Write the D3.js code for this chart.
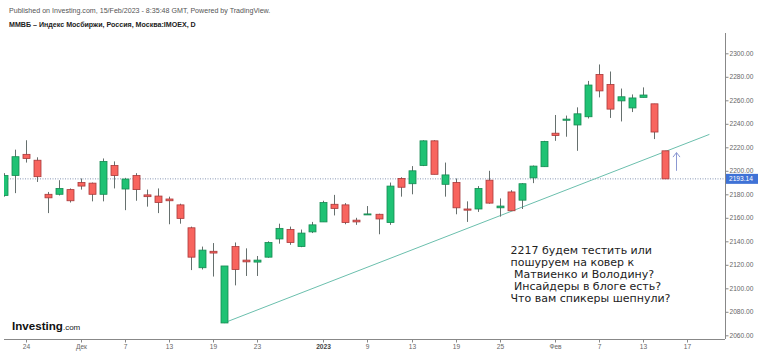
<!DOCTYPE html>
<html lang="ru">
<head>
    <meta charset="UTF-8">
    <title>IMOEX daily</title>
    <script src="https://d3js.org/d3.v7.min.js"></script>
    <style>
        body { margin: 0; background: #fff; }
        svg { display: block; font-family: "Liberation Sans", Arial, sans-serif; }
        .axis text { fill: #666; font-size: 6.6px; }
        .axis line { stroke: #888; }
        .note { font-family: "DejaVu Sans", Verdana, sans-serif; font-size: 11px; fill: #222; }
    </style>
</head>
<body>
<div id="chart"></div>
<script>
// trading days shown (Nov 22 2022 .. Feb 15 2023), OHLC
const dates = ["2022-11-22","2022-11-23","2022-11-24","2022-11-25","2022-11-28","2022-11-29","2022-11-30",
    "2022-12-01","2022-12-02","2022-12-05","2022-12-06","2022-12-07","2022-12-08","2022-12-09","2022-12-12",
    "2022-12-13","2022-12-14","2022-12-15","2022-12-16","2022-12-19","2022-12-20","2022-12-21","2022-12-22",
    "2022-12-23","2022-12-26","2022-12-27","2022-12-28","2022-12-29","2022-12-30","2023-01-03","2023-01-04",
    "2023-01-05","2023-01-06","2023-01-09","2023-01-10","2023-01-11","2023-01-12","2023-01-13","2023-01-16",
    "2023-01-17","2023-01-18","2023-01-19","2023-01-20","2023-01-23","2023-01-24","2023-01-25","2023-01-26",
    "2023-01-27","2023-01-30","2023-01-31","2023-02-01","2023-02-02","2023-02-03","2023-02-06","2023-02-07",
    "2023-02-08","2023-02-09","2023-02-10","2023-02-13","2023-02-14","2023-02-15"];
// empty days to the right of the last bar
const futureDates = ["2023-02-16","2023-02-17","2023-02-20","2023-02-21","2023-02-22"];

const open  = [2179,2196,2214,2209,2180,2180,2184,2190,2189.5,2180,2204.5,2184.5,2196,2179.5,2178.5,
    2176,2171,2151.5,2117.5,2131.5,2070.5,2135.5,2124,2122.3,2126.5,2142,2150,2135.5,2148,2156.5,2171.5,
    2171,2158,2163,2163,2156,2193.5,2189,2204.5,2225.5,2188.5,2190,2167.5,2167.5,2192,2168.5,2182,
    2175,2194,2203.5,2232,2243,2239,2246,2282,2273.5,2259.5,2253.5,2262.5,2257,2217];
const high  = [2198,2218,2226,2211.5,2182,2192,2185,2193.5,2190,2210.5,2208,2194,2198,2184,2185,
    2178,2172,2152.5,2135.5,2138.5,2119,2139,2134,2127.5,2140,2155,2152.5,2150,2156.5,2174.5,2179.5,
    2172.5,2160,2170,2163.5,2190,2194.5,2204,2226,2226,2207,2193.5,2174,2187,2200,2176.5,2183.5,
    2189.5,2204.5,2225.5,2247.5,2247,2254,2276.5,2290.5,2284.5,2270,2265,2271,2257,2217];
const low   = [2178,2181,2207,2190.5,2164,2179,2173,2184,2174,2174,2185,2166.5,2174.5,2169.5,2164,
    2154.5,2155,2115.5,2116,2110,2070.5,2102.5,2110.5,2110.5,2126,2138,2137,2135,2147,2156.5,2162,
    2154.5,2154,2163,2146,2154,2178,2180,2204,2197,2178,2163,2156.5,2165,2172,2161,2166,
    2167.5,2189.5,2203.5,2225.5,2229,2217,2244.5,2262.5,2245,2242,2250,2262.5,2227,2193.14];
const close = [2196,2212,2210.5,2195,2177,2185,2174.5,2187,2180,2208,2196,2193,2184,2178,2173,
    2174.5,2159.5,2126.5,2132.5,2130,2119,2116,2122.5,2124,2139,2151,2139,2147,2154,2173,2168,
    2156,2156.5,2163.3,2159,2187,2186,2200,2225.5,2197,2196.5,2168.5,2166.5,2185,2172.5,2170,2166,
    2189,2204,2225,2230,2244,2248.5,2273,2268,2252.5,2263,2262,2264.5,2233,2193.14];

const lastPrice = 2193.14;

const yTicks = [2060,2080,2100,2120,2140,2160,2180,2200,2220,2240,2260,2280,2300];
const xTickDates  = ["2022-11-24","2022-12-01","2022-12-07","2022-12-13","2022-12-19","2022-12-23",
    "2023-01-03","2023-01-09","2023-01-13","2023-01-19","2023-01-25","2023-02-01","2023-02-07",
    "2023-02-13","2023-02-17"];
const xTickLabels = ["24","Дек","7","13","19","23","2023","9","13","19","25","Фев","7","13","17"];

// support line drawn on the chart (from the Dec 20 low)
const trendDates  = ["2022-12-20","2023-02-21"];
const trendValues = [2070.6, 2231];
// the hand-drawn arrow next to the last bar
const arrowDate = "2023-02-16";
const arrowValues = [2200, 2215.5];

const noteLines = ["2217 будем тестить или", "пошуруем на ковер к", " Матвиенко и Володину?",
    " Инсайдеры в блоге есть?", "Что вам спикеры шепнули?"];

const W = 758, H = 353;
const plot = { left: 4, right: 725, top: 33, bottom: 339 };

const svg = d3.select("#chart").append("svg")
    .attr("width", W).attr("height", H);

const allDays = dates.concat(futureDates);
const step = 11.03;
const x = d3.scalePoint()
    .domain(allDays)
    .range([3.5, 3.5 + step * (allDays.length - 1)]);

const y = d3.scaleLinear()
    .domain([2060, 2300])
    .range([335.3, 53.3]);

// header
svg.append("text").attr("x", 9).attr("y", 12.5)
    .style("font-size", "7.1px").style("fill", "#555")
    .text("Published on Investing.com, 15/Feb/2023 - 8:35:48 GMT, Powered by TradingView.");
svg.append("text").attr("x", 9).attr("y", 26.5)
    .style("font-size", "7.1px").style("font-weight", "bold").style("fill", "#222")
    .text("ММВБ – Индекс Мосбиржи, Россия, Москва:IMOEX, D");

svg.append("clipPath").attr("id", "clip")
    .append("rect")
    .attr("x", plot.left).attr("y", plot.top)
    .attr("width", plot.right - plot.left).attr("height", plot.bottom - plot.top);

const g = svg.append("g").attr("clip-path", "url(#clip)");

// last price dotted line
g.append("line")
    .attr("x1", 0).attr("x2", plot.right)
    .attr("y1", y(lastPrice)).attr("y2", y(lastPrice))
    .attr("stroke", "#8797b4").attr("stroke-width", 1)
    .attr("stroke-dasharray", "1,1.5");

// trend line
g.append("line")
    .attr("x1", x(trendDates[0])).attr("y1", y(trendValues[0]))
    .attr("x2", x(trendDates[1])).attr("y2", y(trendValues[1]))
    .attr("stroke", "#6bbfad").attr("stroke-width", 1);

const bars = dates.map((d, i) => ({ date: d, o: open[i], h: high[i], l: low[i], c: close[i] }));
const bodyW = 7;

const candle = g.selectAll(".candle")
    .data(bars)
    .enter()
    .append("g")
    .attr("class", "candle");

candle.append("line")
    .attr("x1", d => Math.round(x(d.date)) + 0.5)
    .attr("x2", d => Math.round(x(d.date)) + 0.5)
    .attr("y1", d => y(d.h))
    .attr("y2", d => y(d.l))
    .attr("stroke", "#66706e")
    .attr("stroke-width", 1);

candle.append("rect")
    .attr("x", d => Math.round(x(d.date)) + 0.5 - bodyW / 2)
    .attr("y", d => y(Math.max(d.o, d.c)))
    .attr("width", bodyW)
    .attr("height", d => Math.max(1, Math.abs(y(d.o) - y(d.c))))
    .attr("fill", d => d.c >= d.o ? "#1fc274" : "#f8645e")
    .attr("stroke", d => d.c >= d.o ? "#168a52" : "#a8393a")
    .attr("stroke-width", 0.8);

// arrow
const ax = Math.round(x(arrowDate)) + 0.5;
const arrow = svg.append("g").attr("stroke", "#8b98d2").attr("stroke-width", 1).attr("fill", "none");
arrow.append("line").attr("x1", ax).attr("x2", ax)
    .attr("y1", y(arrowValues[0])).attr("y2", y(arrowValues[1]));
arrow.append("path")
    .attr("d", `M${ax - 3.5},${y(arrowValues[1]) + 4.5} L${ax},${y(arrowValues[1])} L${ax + 3.5},${y(arrowValues[1]) + 4.5}`);

// right axis
svg.append("line")
    .attr("x1", plot.right + 0.5).attr("x2", plot.right + 0.5)
    .attr("y1", plot.top).attr("y2", plot.bottom)
    .attr("stroke", "#888");

const yAxis = svg.append("g")
    .attr("class", "axis")
    .attr("transform", `translate(${plot.right + 0.5},0)`)
    .call(d3.axisRight(y).tickValues(yTicks).tickSize(3).tickPadding(1).tickFormat(d3.format(".2f")));
yAxis.select(".domain").remove();

// last price tag
svg.append("rect")
    .attr("x", plot.right + 1).attr("y", y(lastPrice) - 5)
    .attr("width", W - plot.right).attr("height", 10)
    .attr("fill", "#3f72d6");
svg.append("text")
    .attr("x", plot.right + 4).attr("y", y(lastPrice) + 2.4)
    .style("font-size", "6.6px").style("fill", "#fff")
    .text(d3.format(".2f")(lastPrice));

// bottom axis
svg.append("line")
    .attr("x1", plot.left).attr("x2", plot.right)
    .attr("y1", plot.bottom + 0.5).attr("y2", plot.bottom + 0.5)
    .attr("stroke", "#888");

const xAxis = svg.append("g")
    .attr("class", "axis")
    .attr("transform", `translate(0,${plot.bottom + 0.5})`)
    .call(d3.axisBottom(x).tickValues(xTickDates).tickSize(3).tickPadding(1.5)
        .tickFormat(d => xTickLabels[xTickDates.indexOf(d)]));
xAxis.select(".domain").remove();
xAxis.selectAll(".tick")
    .attr("transform", d => `translate(${Math.round(x(d)) + 0.5},0)`);
xAxis.selectAll("text")
    .filter(d => d === "2023-01-03")
    .style("font-weight", "bold").style("fill", "#444");

// logo
const logo = svg.append("text").attr("x", 12).attr("y", 330);
logo.append("tspan").style("font-size", "11.6px").style("font-weight", "bold").style("fill", "#111").text("Investing");
logo.append("tspan").style("font-size", "8px").style("fill", "#222").text(".com");

// note
svg.append("text")
    .attr("class", "note")
    .attr("x", 510.5)
    .attr("y", 254)
    .attr("xml:space", "preserve")
    .selectAll("tspan")
    .data(noteLines)
    .enter()
    .append("tspan")
    .attr("x", 510.5)
    .attr("dy", (d, i) => i === 0 ? 0 : 11.9)
    .text(d => d);
</script>
</body>
</html>
